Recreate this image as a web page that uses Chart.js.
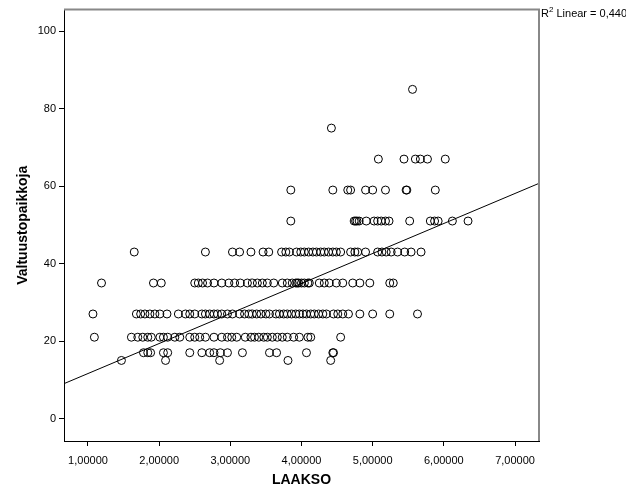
<!DOCTYPE html>
<html>
<head>
<meta charset="utf-8">
<script src="https://cdn.jsdelivr.net/npm/chart.js@4.4.0/dist/chart.umd.min.js"></script>
<style>
  html, body { margin: 0; padding: 0; background: #fff; }
</style>
</head>
<body>
<canvas id="scatter" width="626" height="501"></canvas>
<script>
// council seat counts (y) and LAAKSO values (x), one list per seat level
const seatLevels = [15, 17, 21, 27, 35, 43, 51, 59, 67, 75, 85];
const laakso15 = [1.47, 2.09, 2.85, 3.81, 4.41];
const laakso17 = [1.78, 1.84, 1.88, 2.06, 2.12, 2.43, 2.60, 2.71, 2.77, 2.86, 2.96, 3.17, 3.55, 3.65, 4.07, 4.44, 4.45];
const laakso21 = [1.09, 1.61, 1.70, 1.77, 1.84, 1.89, 2.01, 2.06, 2.12, 2.22, 2.29, 2.43, 2.50, 2.57, 2.65,
  2.77, 2.88, 2.96, 3.02, 3.09, 3.21, 3.29, 3.34, 3.40, 3.47, 3.52, 3.59, 3.66, 3.73, 3.80, 3.89, 3.97,
  4.09, 4.13, 4.55];
const laakso27 = [1.07, 1.68, 1.74, 1.80, 1.87, 1.94, 2.01, 2.11, 2.27, 2.37, 2.43, 2.50, 2.60, 2.65, 2.71,
  2.77, 2.82, 2.88, 2.96, 3.03, 3.13, 3.20, 3.26, 3.31, 3.37, 3.43, 3.50, 3.55, 3.64, 3.69, 3.75, 3.80,
  3.86, 3.92, 3.97, 4.02, 4.07, 4.13, 4.18, 4.24, 4.30, 4.35, 4.45, 4.51, 4.58, 4.66, 4.82, 5.00, 5.24, 5.63];
const laakso35 = [1.19, 1.92, 2.03, 2.50, 2.55, 2.61, 2.68, 2.77, 2.88, 2.98, 3.06, 3.14, 3.24, 3.31, 3.38,
  3.45, 3.52, 3.61, 3.73, 3.80, 3.87, 3.92, 3.94, 3.96, 4.00, 4.04, 4.09, 4.11, 4.25, 4.32, 4.39, 4.49,
  4.58, 4.72, 4.82, 4.96, 5.24, 5.29];
const laakso43 = [1.65, 2.65, 3.03, 3.13, 3.29, 3.46, 3.54, 3.72, 3.78, 3.83, 3.93, 3.99, 4.04, 4.10, 4.16,
  4.21, 4.27, 4.32, 4.38, 4.44, 4.49, 4.55, 4.69, 4.75, 4.79, 4.90, 5.07, 5.13, 5.19, 5.26, 5.35, 5.45,
  5.54, 5.68];
const laakso51 = [3.85, 4.74, 4.76, 4.78, 4.81, 4.91, 5.02, 5.07, 5.12, 5.18, 5.23, 5.52, 5.81, 5.87, 5.92, 6.12, 6.34];
const laakso59 = [3.85, 4.44, 4.65, 4.69, 4.90, 5.00, 5.18, 5.47, 5.48, 5.88];
const laakso67 = [5.08, 5.44, 5.60, 5.67, 5.77, 6.02];
const laakso75 = [4.42];
const laakso85 = [5.56];
const laaksoByLevel = [laakso15, laakso17, laakso21, laakso27, laakso35, laakso43,
  laakso51, laakso59, laakso67, laakso75, laakso85];

// fitted linear line as printed by SPSS (R2 = 0,440)
const fitIntercept = 3.87;
const fitSlope = 7.75;

const xTicks = [1, 2, 3, 4, 5, 6, 7];
const yTicks = [0, 20, 40, 60, 80, 100];
const xRange = [0.663, 7.337];
const yRange = [-5.8, 105.6];

const fontFamily = "Arial, 'Liberation Sans', sans-serif";

const points = [];
seatLevels.forEach((seats, i) => {
  laaksoByLevel[i].forEach(x => points.push({ x: x, y: seats }));
});
const fitLine = xRange.map(x => ({ x: x, y: fitIntercept + fitSlope * x }));

// gray top/right frame + R2 note
const framePlugin = {
  id: 'frame',
  afterDraw(chart) {
    const { ctx, chartArea: a } = chart;
    ctx.save();
    ctx.strokeStyle = '#888';
    ctx.lineWidth = 2;
    ctx.beginPath();
    ctx.moveTo(a.left, a.top);
    ctx.lineTo(a.right, a.top);
    ctx.lineTo(a.right, a.bottom);
    ctx.stroke();

    ctx.fillStyle = '#000';
    ctx.textBaseline = 'alphabetic';
    ctx.textAlign = 'left';
    ctx.font = '11px ' + fontFamily;
    ctx.fillText('R', a.right + 2, 17);
    const rw = ctx.measureText('R').width;
    ctx.font = '8px ' + fontFamily;
    ctx.fillText('2', a.right + 2 + rw, 12);
    const tw = ctx.measureText('2').width;
    ctx.font = '11px ' + fontFamily;
    ctx.fillText(' Linear = 0,440', a.right + 2 + rw + tw, 17);
    ctx.restore();
  }
};

new Chart(document.getElementById('scatter'), {
  type: 'scatter',
  data: {
    datasets: [
      {
        data: points,
        pointRadius: 4,
        pointHoverRadius: 4,
        pointBorderWidth: 1,
        pointBackgroundColor: 'rgba(0,0,0,0)',
        pointBorderColor: '#000'
      },
      {
        type: 'line',
        data: fitLine,
        showLine: true,
        borderColor: '#000',
        borderWidth: 1,
        pointRadius: 0,
        fill: false
      }
    ]
  },
  options: {
    responsive: false,
    animation: false,
    layout: { padding: { top: 5, right: 87, left: 0, bottom: 0 } },
    plugins: {
      legend: { display: false },
      tooltip: { enabled: false }
    },
    scales: {
      x: {
        type: 'linear',
        min: xRange[0],
        max: xRange[1],
        afterBuildTicks: s => { s.ticks = xTicks.map(v => ({ value: v })); },
        afterFit: s => { s.height = 60; },
        ticks: {
          callback: v => v.toFixed(5).replace('.', ','),
          color: '#000',
          font: { size: 11, family: fontFamily },
          padding: 8,
          maxRotation: 0,
          autoSkip: false
        },
        grid: { drawOnChartArea: false, tickLength: 5, color: '#000' },
        border: { color: '#000' },
        title: {
          display: true,
          text: 'LAAKSO',
          color: '#000',
          font: { size: 14, weight: 'bold', family: fontFamily },
          padding: { bottom: 12 }
        }
      },
      y: {
        type: 'linear',
        min: yRange[0],
        max: yRange[1],
        afterBuildTicks: s => { s.ticks = yTicks.map(v => ({ value: v })); },
        afterFit: s => { s.width = 64; },
        ticks: {
          color: '#000',
          font: { size: 11, family: fontFamily },
          padding: 3
        },
        grid: { drawOnChartArea: false, tickLength: 5, color: '#000' },
        border: { color: '#000' },
        title: {
          display: true,
          text: 'Valtuustopaikkoja',
          color: '#000',
          font: { size: 14, weight: 'bold', family: fontFamily },
          padding: { top: 15 }
        }
      }
    }
  },
  plugins: [framePlugin]
});
</script>
</body>
</html>
